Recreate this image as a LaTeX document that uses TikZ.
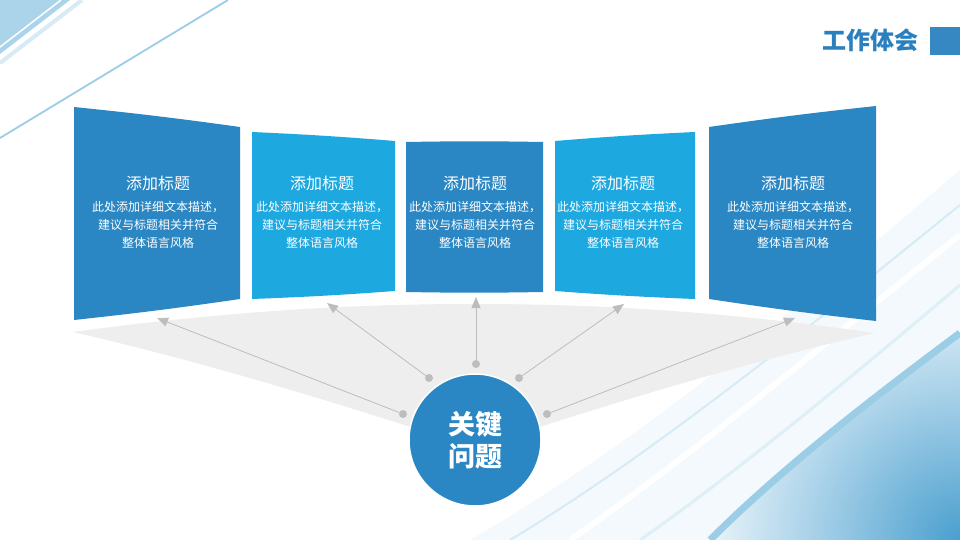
\documentclass[tikz,border=0pt]{standalone}
\usepackage{fontspec}
\newfontfamily\cjk{Noto Sans CJK SC}
\usetikzlibrary{arrows.meta}
\definecolor{pdark}{HTML}{2B87C3}
\definecolor{plight}{HTML}{1DA8E0}
\definecolor{titleblue}{HTML}{2A80BE}
\definecolor{lensgray}{HTML}{EEEEEE}
\definecolor{linegray}{HTML}{BDBDBD}
\definecolor{swoosh}{HTML}{9CCDE6}
\definecolor{swooshpale}{HTML}{D6EBF6}
\definecolor{swooshdeep}{HTML}{4A9FCF}

\begin{document}
\begin{tikzpicture}[x=1pt, y=-1pt,
  ptitle/.style={text=white, font=\cjk\fontsize{16}{18}\selectfont},
  pbody/.style={text=white, align=center, font=\cjk\fontsize{12}{18}\selectfont},
  dot/.style={circle, fill=linegray, inner sep=0pt, minimum size=8pt},
  arrowline/.style={draw=linegray, line width=0.8pt, -{Triangle[length=11pt, width=9pt, fill=linegray]}}]
  \useasboundingbox (0,0) rectangle (960,540);
  \fill[white] (0,0) rectangle (960,540);
  \fill[swoosh!85] (0,0) -- (70,0) -- (0,54) -- cycle;
  \draw[white, line width=1.5pt] (0,47) -- (61,0);
  \draw[swooshpale, line width=4pt] (0,63) -- (82,0);
  \draw[swoosh, line width=1.8pt] (0,138) -- (228,0);
  \fill[swooshpale!30] (960,170) .. controls (830,280) and (660,430) .. (470,540) -- (960,540) -- cycle;
  \draw[white, line width=6pt] (960,235) .. controls (840,330) and (700,450) .. (570,540);
  \draw[swooshpale, line width=2pt] (960,205) .. controls (830,310) and (660,450) .. (510,540);
  \draw[swooshpale!80, line width=3pt] (960,285) .. controls (860,370) and (740,470) .. (640,540);
  \begin{scope}
    \clip (960,333) .. controls (870,400) and (780,470) .. (710,540) -- (960,540) -- cycle;
    \shade[inner color=swooshdeep, outer color=swooshpale!40] (960,540) circle (260);
  \end{scope}
  \draw[swoosh, line width=7pt] (960,333) .. controls (870,400) and (780,470) .. (710,540);
  \fill[lensgray] (73,332) .. controls (250,308) and (380,304) .. (475,304) .. controls (570,304) and (700,308) .. (875,333)
    .. controls (720,368) and (560,420) .. (475,448) .. controls (390,420) and (230,368) .. (73,332) -- cycle;
  \foreach \n/\xa/\xb/\ya/\yb/\yc/\yd/\col/\xc in {1/74/240/107/127/299/320/pdark/158, 2/252/395/132/141/291/299/plight/322, 3/406/543/142/142/292/292/pdark/475, 4/555/695/141/132/299/291/plight/623, 5/709/876/127/106/321/299/pdark/793}{
    \fill[\col] (\xa,\ya) to[bend left=1] (\xb,\yb) -- (\xb,\yc) to[bend left=1] (\xa,\yd) -- cycle;
    \node[ptitle] (h\n) at (\xc,183) {添加标题};
    \node[pbody] (b\n) at (\xc,225) {此处添加详细文本描述，\\建议与标题相关并符合\\整体语言风格};
  }
  \foreach \n/\x/\y in {1/403/414, 2/429/378, 3/476/364, 4/519/378, 5/547/414}{
    \node[dot] (d\n) at (\x,\y) {};
  }
  \foreach \n/\x/\y in {1/157/318, 2/327/303, 3/476/297, 4/624/304, 5/795/318}{
    \coordinate (a\n) at (\x,\y);
  }
  \foreach \n in {1,...,5}{
    \draw[arrowline] (d\n) -- (a\n);
  }
  \node[circle, fill=pdark, draw=white, line width=1.5pt, minimum size=132pt, inner sep=0pt, text=white, align=center,
    font=\cjk\bfseries\fontsize{27}{32}\selectfont] (key) at (475,440) {关键\\问题};
  \node[text=titleblue, font=\cjk\bfseries\fontsize{24}{28}\selectfont] (title) at (870,40) {工作体会};
  \fill[titleblue!90!swoosh] (930,27) rectangle (960,55);
\end{tikzpicture}
\end{document}
